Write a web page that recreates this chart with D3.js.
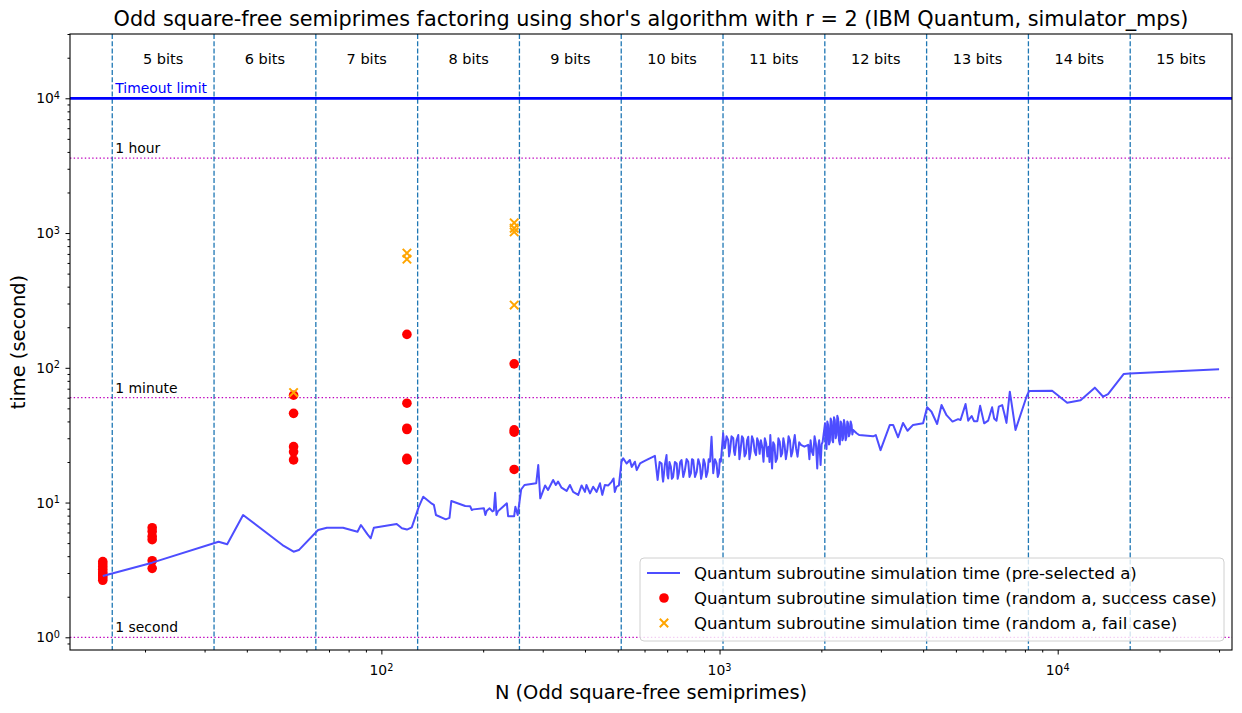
<!DOCTYPE html>
<html>
<head>
<meta charset="utf-8">
<script src="https://cdn.jsdelivr.net/npm/d3@7"></script>
<style>
  body { margin: 0; background: #fff; }
  text { font-family: "DejaVu Sans", sans-serif; }
</style>
</head>
<body>
<div id="chart"></div>
<script>
// simulation time of the quantum subroutine, pre-selected a (N, seconds)
var lineN = [15, 21, 33, 35, 39, 51, 55, 57, 65, 69, 77, 85, 87, 91, 93, 95, 111, 115, 119, 123,
  129, 133, 141, 143, 145, 155, 159, 161, 177, 183, 185, 187, 201, 203, 205, 209, 213, 215, 217, 219, 221, 235, 237, 247, 249, 253,
  259, 265, 287, 291, 295, 305, 311, 322, 328, 333, 341, 353, 361, 369, 382, 391, 400, 404, 414, 423, 433, 443, 450, 458, 469, 480, 486, 490, 496, 504,
  513, 519, 531, 543, 550, 562, 569, 582, 595, 609, 622, 644, 656, 665, 674, 678, 681, 689, 697, 701, 705, 711, 718, 723, 729, 738, 747, 752, 758, 765, 772, 781, 790, 799, 808, 815, 823, 829, 836, 846, 856, 865, 875, 882, 889, 897, 905, 913, 922, 929, 937, 947, 958, 969, 980, 988, 996, 1002, 1009,
  1025, 1031, 1037, 1049, 1061, 1067, 1073, 1085, 1098, 1104, 1110, 1123, 1136, 1145, 1154, 1165, 1175, 1186, 1197, 1206, 1216, 1226, 1236, 1247, 1259, 1270, 1282, 1292, 1303, 1314, 1325, 1337, 1349, 1361, 1374, 1385, 1397, 1405, 1413, 1421, 1430, 1441, 1453, 1466, 1480, 1493, 1507, 1519, 1532, 1544, 1557, 1571, 1586, 1600, 1615, 1629, 1643, 1656, 1669, 1685, 1701, 1720, 1741, 1782, 1829, 1844, 1859, 1875, 1892, 1910, 1927, 1945, 1958, 1971, 1990, 2004, 2018,
  2051, 2061, 2072, 2083, 2095, 2107, 2119, 2131, 2144, 2155, 2167, 2180, 2192, 2205, 2218, 2230, 2242, 2255, 2268, 2281, 2294, 2307, 2320, 2333, 2347, 2360, 2374, 2387, 2400, 2414, 2428, 2442, 2457, 2470, 2484, 2543, 2587, 2846, 2898, 2993, 3189, 3261, 3373, 3489, 3597, 3735, 3999,
  4110, 4235, 4400, 4534, 4691, 4886, 5076, 5160, 5340, 5437, 5566, 5655, 5786, 5896, 6061, 6227, 6398, 6486, 6593, 6697, 6852, 6973, 7055, 7218, 7304, 7503, 8087,
  8231, 9627, 10667, 11685, 12876, 13630, 14090, 15684, 16316, 30011];
var lineT = [2.85, 3.58, 5.12, 4.9, 8.08, 4.84, 4.32, 4.44, 6.26, 6.51, 6.51, 6.08, 6.81, 5.8, 5.43, 6.51, 6.93, 6.44, 6.3, 6.55,
  9.3, 11.05, 9.8, 9.6, 8.08, 7.51, 7.7, 10.27, 9.42, 9.4, 8.81, 8.9, 9.06, 8.08, 8.7, 9.06, 8.6, 8.7, 11.83, 8.08, 8.6, 9.87, 7.93, 7.93, 9.3, 8.08,
  12.5, 13.5, 13.9, 19.0, 10.75, 13.4, 12.4, 14.7, 13.5, 14.3, 12.9, 12.2, 13.5, 12.0, 11.4, 13.4, 12.0, 13.5, 11.7, 13.1, 12.0, 13.9, 11.4, 13.5, 13.4, 14.3, 15.1, 12.0, 13.1, 13.4,
  20.1, 21.3, 19.5, 20.7, 18.4, 20.1, 17.4, 19.5, 20.1, 20.7, 21.3, 22.2, 14.7, 20.0, 19.5, 15.5, 14.3, 19.0, 22.5, 16.0, 15.1, 20.0, 18.4, 15.0, 15.5, 20.0, 19.5, 15.0, 16.5, 20.0, 20.7, 15.5, 17.4, 21.0, 20.1, 15.5, 16.5, 21.0, 20.7, 15.5, 16.9, 21.0, 19.0, 15.0, 16.5, 21.0, 19.5, 15.5, 16.9, 21.0, 20.1, 30.8, 16.5, 21.0, 19.5, 15.5, 16.5, 21.0, 20.1,
  32.7, 27.0, 25.3, 31.0, 29.0, 22.0, 23.8, 31.0, 30.0, 24.0, 22.5, 29.0, 31.7, 21.0, 24.5, 31.0, 30.0, 22.0, 23.2, 29.0, 30.8, 21.0, 23.8, 31.0, 29.0, 24.0, 22.5, 30.0, 28.2, 23.0, 29.0, 26.0, 20.1, 30.0, 27.4, 22.0, 26.0, 20.0, 31.7, 24.0, 17.9, 28.0, 26.8, 20.0, 21.3, 30.0, 28.2, 22.0, 23.2, 30.0, 26.8, 21.0, 24.5, 31.0, 29.0, 22.0, 23.8, 28.0, 31.7, 25.0, 21.9, 28.0, 26.8, 26.0, 26.8, 21.0, 29.0, 24.0, 22.5, 31.0, 27.4, 17.9, 26.0, 29.0, 19.0, 27.0, 28.2,
  38.7, 27.0, 25.0, 40.0, 37.7, 27.0, 28.2, 42.0, 39.9, 29.0, 28.0, 43.0, 41.0, 30.0, 31.7, 44.0, 42.1, 29.0, 27.0, 40.0, 38.7, 29.0, 30.0, 41.0, 37.7, 29.0, 30.8, 40.0, 38.7, 31.0, 32.7, 40.0, 37.7, 32.0, 34.6, 32.7, 31.7, 31.0, 31.7, 24.5, 37.7, 37.7, 30.5, 39.0, 34.1, 37.7, 38.7,
  50.9, 47.2, 38.3, 52.9, 44.5, 39.9, 41.6, 41.0, 53.8, 40.5, 43.9, 40.2, 40.2, 52.2, 38.7, 40.5, 50.9, 42.1, 40.5, 51.5, 52.9, 44.5, 39.0, 66.5, 54.6, 34.6, 61.0,
  67.3, 67.6, 55.0, 57.5, 71.2, 61.0, 63.8, 90.0, 90.9, 97.5];

// random a, success case
var successN = [15, 15, 15, 15, 15, 15, 15, 15, 15, 21, 21, 21, 21, 21, 21, 55, 55, 55, 55, 55, 119, 119, 119, 119, 119, 119, 247, 247, 247, 247];
var successT = [2.65, 2.75, 2.85, 2.95, 3.05, 3.2, 3.35, 3.5, 3.65, 3.25, 3.7, 5.3, 5.6, 6.1, 6.5, 20.7, 23.8, 26.0, 45.9, 62.6, 20.7, 21.3, 34.8, 35.6, 54.6, 177, 17.6, 33.3, 34.6, 107];

// random a, fail case
var failN = [55, 119, 119, 247, 247, 247, 247];
var failT = [65.5, 640, 710, 292, 1020, 1085, 1190];

var bitEdges = [16, 32, 64, 128, 256, 512, 1024, 2048, 4096, 8192, 16384, 32768];
var bitLabels = ["5 bits", "6 bits", "7 bits", "8 bits", "9 bits", "10 bits", "11 bits", "12 bits", "13 bits", "14 bits", "15 bits"];
var refValues = [10000, 3600, 60, 1];
var refLabels = ["Timeout limit", "1 hour", "1 minute", "1 second"];
var xTicks = [100, 1000, 10000];
var yTicks = [1, 10, 100, 1000, 10000];
var legendLabels = ["Quantum subroutine simulation time (pre-selected a)",
  "Quantum subroutine simulation time (random a, success case)",
  "Quantum subroutine simulation time (random a, fail case)"];

var width = 1242, height = 713;
var margin = {top: 34, right: 10, bottom: 63, left: 70},
    plotW = width - margin.left - margin.right,
    plotH = height - margin.top - margin.bottom;

var svg = d3.select("#chart")
  .append("svg")
    .attr("width", width)
    .attr("height", height);
var g = svg.append("g")
    .attr("transform", "translate(" + margin.left + "," + margin.top + ")");

var x = d3.scaleLog().domain([12, 32768]).range([0, plotW]);
var y = d3.scaleLog().domain([0.805, 30000]).range([plotH, 0]);

// minor ticks
g.append("g")
  .attr("transform", "translate(0," + plotH + ")")
  .call(d3.axisBottom(x).tickValues(x.ticks().filter(function(v) { return xTicks.indexOf(v) < 0; })).tickSize(2.5).tickFormat(""))
  .call(function(a) { a.select(".domain").remove(); });
g.append("g")
  .call(d3.axisLeft(y).tickValues(y.ticks().filter(function(v) { return yTicks.indexOf(v) < 0; })).tickSize(2.5).tickFormat(""))
  .call(function(a) { a.select(".domain").remove(); });

// major ticks
g.append("g")
  .attr("transform", "translate(0," + plotH + ")")
  .call(d3.axisBottom(x).tickValues(xTicks).tickSize(4.5).tickFormat(""))
  .call(function(a) { a.select(".domain").remove(); });
g.append("g")
  .call(d3.axisLeft(y).tickValues(yTicks).tickSize(4.5).tickFormat(""))
  .call(function(a) { a.select(".domain").remove(); });
g.selectAll(".tick line").attr("stroke", "#000").attr("stroke-width", 1);

function powLabel(t, v) {
  t.append("tspan").text("10");
  t.append("tspan").attr("dy", "-0.45em").attr("font-size", "0.7em").text(Math.round(Math.log10(v)));
}
xTicks.forEach(function(v) {
  var t = g.append("text").attr("x", x(v)).attr("y", plotH + 25)
    .attr("text-anchor", "middle").attr("font-size", 13.9);
  powLabel(t, v);
});
yTicks.forEach(function(v) {
  var t = g.append("text").attr("x", -10).attr("y", y(v) + 5)
    .attr("text-anchor", "end").attr("font-size", 13.9);
  powLabel(t, v);
});

// bit range separators
g.selectAll(".bitline")
  .data(bitEdges.slice(0, -1))
  .enter()
  .append("line")
    .attr("x1", function(d) { return x(d); })
    .attr("x2", function(d) { return x(d); })
    .attr("y1", 0)
    .attr("y2", plotH)
    .attr("stroke", "#1f77b4")
    .attr("stroke-width", 1.3)
    .attr("stroke-dasharray", "5,2.2");

g.selectAll(".bitlabel")
  .data(bitLabels)
  .enter()
  .append("text")
    .attr("x", function(d, i) { return x(Math.sqrt(bitEdges[i] * bitEdges[i + 1])); })
    .attr("y", 29.5)
    .attr("text-anchor", "middle")
    .attr("font-size", 14.5)
    .text(function(d) { return d; });

// reference times
refValues.forEach(function(v, i) {
  var timeout = i == 0;
  g.append("line")
    .attr("x1", 0).attr("x2", plotW)
    .attr("y1", y(v)).attr("y2", y(v))
    .attr("stroke", timeout ? "#0000ff" : "#bf00bf")
    .attr("stroke-width", timeout ? 2.8 : 1.3)
    .attr("stroke-dasharray", timeout ? null : "1.4,2.3");
  g.append("text")
    .attr("x", x(bitEdges[0]) + 3)
    .attr("y", y(v) - 5)
    .attr("font-size", 13.9)
    .attr("fill", timeout ? "#0000ff" : "#000")
    .text(refLabels[i]);
});

// scatter: success
g.selectAll(".ok")
  .data(successN)
  .enter()
  .append("circle")
    .attr("cx", function(d) { return x(d); })
    .attr("cy", function(d, i) { return y(successT[i]); })
    .attr("r", 4.8)
    .attr("fill", "#ff0000");

// scatter: fail
function cross(sel, cx, cy) {
  sel.append("path")
    .attr("d", "M" + (cx - 4.2) + "," + (cy - 4.2) + "L" + (cx + 4.2) + "," + (cy + 4.2) +
               "M" + (cx - 4.2) + "," + (cy + 4.2) + "L" + (cx + 4.2) + "," + (cy - 4.2))
    .attr("stroke", "#ffa500")
    .attr("stroke-width", 2);
}
failN.forEach(function(d, i) { cross(g, x(d), y(failT[i])); });

// pre-selected a
var line = d3.line()
  .x(function(d) { return x(d); })
  .y(function(d, i) { return y(lineT[i]); });
g.append("path")
  .datum(lineN)
  .attr("d", line)
  .attr("fill", "none")
  .attr("stroke", "#4d4dff")
  .attr("stroke-width", 2)
  .attr("stroke-linejoin", "round");

// frame
g.append("rect")
  .attr("width", plotW).attr("height", plotH)
  .attr("fill", "none").attr("stroke", "#000").attr("stroke-width", 1.1);

// legend
var leg = g.append("g").attr("transform", "translate(" + (640 - margin.left) + "," + (558 - margin.top) + ")");
leg.append("rect")
  .attr("width", 584).attr("height", 83).attr("rx", 4)
  .attr("fill", "#fff").attr("fill-opacity", 0.8)
  .attr("stroke", "#d0d0d0");
leg.append("line").attr("x1", 7).attr("x2", 40).attr("y1", 15).attr("y2", 15)
  .attr("stroke", "#4d4dff").attr("stroke-width", 2);
leg.append("circle").attr("cx", 24).attr("cy", 40).attr("r", 4.8).attr("fill", "#ff0000");
cross(leg, 24, 65);
legendLabels.forEach(function(s, i) {
  leg.append("text").attr("x", 54).attr("y", 21 + i * 25).attr("font-size", 16.6).text(s);
});

// titles
svg.append("text")
  .attr("x", margin.left + plotW / 2).attr("y", 26)
  .attr("text-anchor", "middle").attr("font-size", 20.8)
  .text("Odd square-free semiprimes factoring using shor's algorithm with r = 2 (IBM Quantum, simulator_mps)");
svg.append("text")
  .attr("x", margin.left + plotW / 2).attr("y", 699)
  .attr("text-anchor", "middle").attr("font-size", 19.4)
  .text("N (Odd square-free semiprimes)");
svg.append("text")
  .attr("transform", "translate(25," + (margin.top + plotH / 2) + ") rotate(-90)")
  .attr("text-anchor", "middle").attr("font-size", 19.4)
  .text("time (second)");
</script>
</body>
</html>
